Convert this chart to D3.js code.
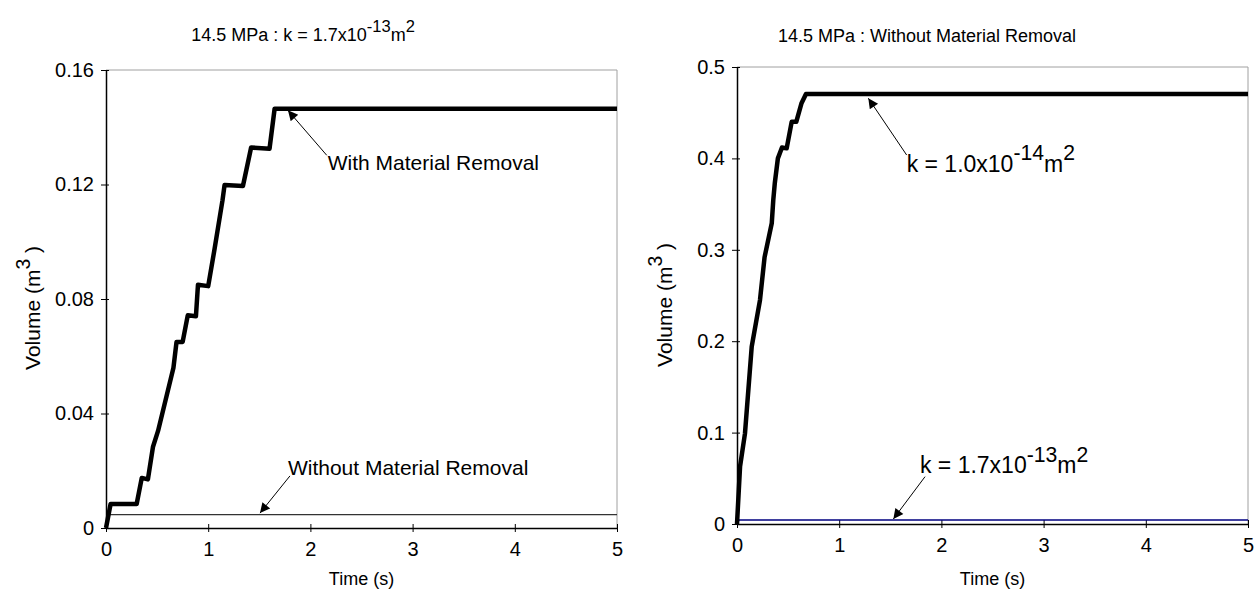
<!DOCTYPE html>
<html><head><meta charset="utf-8">
<script src="https://cdn.jsdelivr.net/npm/d3@7"></script>
<style>body{margin:0;background:#fff}svg{display:block}text{font-family:"Liberation Sans",Arial,sans-serif;fill:#000}</style>
</head><body>
<svg id="c" width="1258" height="593"></svg>
<script>
// ---- data ----
const xTicks = [0, 1, 2, 3, 4, 5];
const leftYTicks = [0, 0.04, 0.08, 0.12, 0.16];
const leftYTickLabels = ["0", "0.04", "0.08", "0.12", "0.16"];
const rightYTicks = [0, 0.1, 0.2, 0.3, 0.4, 0.5];
const rightYTickLabels = ["0", "0.1", "0.2", "0.3", "0.4", "0.5"];

const timeWithRemoval = [0, 0.045, 0.30, 0.35, 0.41, 0.46, 0.51, 0.66, 0.69, 0.75, 0.80, 0.88, 0.90, 1.00, 1.06, 1.14, 1.16, 1.34, 1.42, 1.60, 1.65, 1.68, 5];
const volWithRemoval  = [0, 0.0084, 0.0084, 0.0175, 0.017, 0.0284, 0.034, 0.056, 0.065, 0.065, 0.0743, 0.074, 0.085, 0.0845, 0.097, 0.1145, 0.1198, 0.1195, 0.1329, 0.1325, 0.1465, 0.1465, 0.1465];
const timeWithoutRemoval = [0, 0.03, 5];
const volWithoutRemoval  = [0, 0.0047, 0.0047];

const timeK14 = [0, 0.03, 0.078, 0.144, 0.225, 0.27, 0.34, 0.355, 0.37, 0.40, 0.44, 0.486, 0.535, 0.58, 0.63, 0.675, 5];
const volK14  = [0, 0.063, 0.099, 0.194, 0.245, 0.292, 0.329, 0.3545, 0.373, 0.40, 0.412, 0.411, 0.44, 0.44, 0.46, 0.4705, 0.4705];
const timeK13 = [0, 0.02, 5];
const volK13  = [0, 0.0044, 0.0044];

// annotations: [labelX, labelY, arrowFromX, arrowFromY, arrowToX, arrowToY] in data units
const annLeftWith = [2.17, 0.125, 2.16, 0.1302, 1.78, 0.1459];
const annLeftWithout = [1.78, 0.0185, 1.80, 0.0182, 1.507, 0.0052];
const annRightK14 = [1.66, 0.3855, 1.66, 0.4037, 1.285, 0.4658];
const annRightK13 = [1.79, 0.0555, 1.84, 0.0518, 1.53, 0.0055];

const svg = d3.select("#c");
const defs = svg.append("defs");
defs.append("marker").attr("id","ah").attr("viewBox","0 0 10 10").attr("refX",10).attr("refY",5)
  .attr("markerWidth",14).attr("markerHeight",10).attr("markerUnits","userSpaceOnUse").attr("orient","auto")
  .append("path").attr("d","M0,0 L10,5 L0,10 z").attr("fill","#000");

function richText(g, x, y, parts, size, anchor){
  const t = g.append("text").attr("x", x).attr("y", y).attr("font-size", size).attr("text-anchor", anchor||"start");
  parts.forEach(p => {
    const ts = t.append("tspan").text(p.t);
    if (p.sup) ts.attr("dy", -size*0.5).attr("font-size", size*0.92);
    if (p.down) ts.attr("dy", size*0.5);
  });
  return t;
}

function panel(cfg){
  const x = d3.scaleLinear().domain([0,5]).range([cfg.x0, cfg.x1]);
  const y = d3.scaleLinear().domain([0, cfg.ymax]).range([cfg.y1, cfg.y0]);
  const g = svg.append("g");
  g.append("path").attr("d", `M${cfg.x0},${cfg.y0}H${cfg.x1}V${cfg.y1}`).attr("fill","none").attr("stroke","#a0a0a0").attr("stroke-width",1);
  const xa = g.append("g").attr("transform", `translate(0,${cfg.y1})`)
    .call(d3.axisBottom(x).tickValues(xTicks).tickFormat(d3.format("d")).tickSize(4).tickSizeOuter(0));
  xa.selectAll(".tick line").attr("y1",-4).attr("stroke","#000");
  xa.select(".domain").attr("stroke","#000").attr("stroke-width",1.5);
  xa.selectAll("text").attr("font-size", 20).attr("dy", "1.05em").attr("font-family","Liberation Sans, Arial, sans-serif");
  const ya = g.append("g").attr("transform", `translate(${cfg.x0},0)`)
    .call(d3.axisLeft(y).tickValues(cfg.yTicks).tickFormat((d,i)=>cfg.yLabels[i]).tickSize(5).tickSizeOuter(0).tickPadding(7));
  ya.selectAll(".tick line").attr("x1",3).attr("stroke","#000");
  ya.select(".domain").attr("stroke","#000").attr("stroke-width",1.5);
  ya.selectAll("text").attr("font-size", 20).attr("font-family","Liberation Sans, Arial, sans-serif");
  g.selectAll(".domain").attr("fill","none");
  g.selectAll(".tick text").attr("fill","#000");
  const line = d3.line().x(d=>x(d[0])).y(d=>y(d[1]));
  cfg.series.forEach(s => {
    g.append("path").datum(d3.zip(s.t, s.v)).attr("d", line).attr("fill","none")
      .attr("stroke", s.color).attr("stroke-width", s.w).attr("stroke-linejoin","round");
  });
  cfg.anns.forEach(a => {
    const d = a.d;
    g.append("line").attr("x1", x(d[2])).attr("y1", y(d[3])).attr("x2", x(d[4])).attr("y2", y(d[5]))
      .attr("stroke","#000").attr("stroke-width",1).attr("marker-end","url(#ah)");
    richText(g, x(d[0]), y(d[1]), a.parts, a.size);
  });
  richText(g, cfg.titleX, cfg.titleY, cfg.title, 18, "middle");
  g.append("text").attr("x", (cfg.x0+cfg.x1)/2).attr("y", 585).attr("text-anchor","middle").attr("font-size",18).text("Time (s)");
  const yt = richText(g, 0, 0, [{t:"Volume (m"},{t:"3",sup:true},{t:" )",down:true}], 21, "middle");
  yt.attr("x", null).attr("y", null).attr("transform", `translate(${cfg.ytX},${cfg.ytY}) rotate(-90)`);
}

panel({x0:106, x1:617, y0:70, y1:528, ymax:0.16, yTicks:leftYTicks, yLabels:leftYTickLabels,
  series:[{t:timeWithoutRemoval, v:volWithoutRemoval, color:"#333", w:1.3},
          {t:timeWithRemoval, v:volWithRemoval, color:"#000", w:4.5}],
  anns:[{d:annLeftWith, size:21, parts:[{t:"With Material Removal"}]},
        {d:annLeftWithout, size:21, parts:[{t:"Without Material Removal"}]}],
  title:[{t:"14.5 MPa : k = 1.7x10"},{t:"-13",sup:true},{t:"m",down:true},{t:"2",sup:true}],
  titleX:303, titleY:41, ytX:40, ytY:308});

panel({x0:737, x1:1248, y0:67, y1:524, ymax:0.5, yTicks:rightYTicks, yLabels:rightYTickLabels,
  series:[{t:timeK13, v:volK13, color:"#000080", w:1.5},
          {t:timeK14, v:volK14, color:"#000", w:4.5}],
  anns:[{d:annRightK14, size:23, parts:[{t:"k = 1.0x10"},{t:"-14",sup:true},{t:"m",down:true},{t:"2",sup:true}]},
        {d:annRightK13, size:23, parts:[{t:"k = 1.7x10"},{t:"-13",sup:true},{t:"m",down:true},{t:"2",sup:true}]}],
  title:[{t:"14.5 MPa : Without Material Removal"}],
  titleX:927, titleY:42, ytX:672, ytY:305});
</script>
</body></html>
